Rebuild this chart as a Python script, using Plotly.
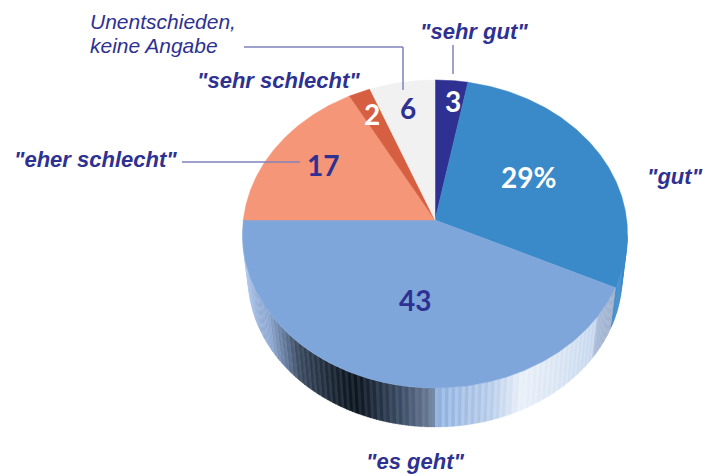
import math
import plotly.graph_objects as go

categories = ['"sehr gut"', '"gut"', '"es geht"', '"eher schlecht"', '"sehr schlecht"', 'Unentschieden, keine Angabe']
values = [3, 29, 43, 17, 2, 6]
value_labels = ["3", "29%", "43", "17", "2", "6"]
slice_colors = ["#2e3192", "#3a89c9", "#7ea6da", "#f59679", "#d65f41", "#f1f1f1"]

# rim shading of the visible 3D edge: (ellipse angle clockwise from top, colour)
rim_angles = [90, 110, 110.5, 122, 123, 137, 153, 163, 179, 181, 190, 204, 208, 226, 231, 240, 261, 270]
rim_colors = ["#3a89c9", "#3a89c9", "#9fb0cc", "#a9bcd8", "#c3d5ee", "#d5e2f3", "#e8eff8", "#b5cbe9", "#8db0e0",
              "#6a7c98", "#3b4d66", "#0c1520", "#101a26", "#3a4a60", "#5a7090", "#8aa5cf", "#a9c4e8", "#b5cdec"]

W, H = 703, 474
# top face: ellipse seen in perspective, hub lies above the ellipse centre
CX, CY = 435, 234
RX, RY = 192.5, 154
HUB = -14 / 154
# bottom outline of the rim
BX, BY, BRX, BRY = 435, 277, 187, 150


def face_pt(deg):
    """Slice angle (clockwise from top) to page position, with perspective."""
    a = math.radians(deg)
    u, v = math.sin(a), -math.cos(a)
    den = 1 + HUB * v
    return CX + RX * u * math.sqrt(1 - HUB ** 2) / den, CY + RY * (v + HUB) / den


def top_pt(deg):
    a = math.radians(deg)
    return CX + RX * math.sin(a), CY - RY * math.cos(a)


def bot_pt(deg):
    a = math.radians(deg)
    return BX + BRX * math.sin(a), BY - BRY * math.cos(a)


def mix(c1, c2, t):
    p = [int(c1[i:i + 2], 16) for i in (1, 3, 5)]
    q = [int(c2[i:i + 2], 16) for i in (1, 3, 5)]
    return "#%02x%02x%02x" % tuple(round(a + (b - a) * t) for a, b in zip(p, q))


def rim_color(deg):
    for i in range(len(rim_angles) - 1):
        if rim_angles[i] <= deg <= rim_angles[i + 1]:
            t = (deg - rim_angles[i]) / (rim_angles[i + 1] - rim_angles[i])
            return mix(rim_colors[i], rim_colors[i + 1], t)
    return rim_colors[-1]


fig = go.Figure()

# rim, in narrow bands; every other band a little lighter for the banded shading
for idx, d in enumerate(range(90, 270)):
    sub = [d + k * 0.25 for k in range(0, 6)]
    pts = [top_pt(s) for s in sub] + [bot_pt(s) for s in reversed(sub)]
    col = rim_color(d + 0.5)
    if 122 < d < 245 and idx % 2:
        col = mix(col, "#ffffff", 0.08) if d > 180 else mix(col, "#ffffff", 0.2)
    fig.add_trace(go.Scatter(x=[p[0] for p in pts], y=[p[1] for p in pts], mode="lines", fill="toself",
                             fillcolor=col, line=dict(color=col, width=0.3), hoverinfo="skip", showlegend=False))

# top face
total = sum(values)
start = 0.0
for name, v, col in zip(categories, values, slice_colors):
    end = start + v / total * 360
    n = max(4, int((end - start) * 2))
    arc = [face_pt(start + (end - start) * i / n) for i in range(n + 1)]
    hub = CX, CY + RY * HUB
    xs = [hub[0]] + [p[0] for p in arc] + [hub[0]]
    ys = [hub[1]] + [p[1] for p in arc] + [hub[1]]
    fig.add_trace(go.Scatter(x=xs, y=ys, mode="lines", fill="toself", fillcolor=col, name=name,
                             line=dict(color=col, width=0.5), hoverinfo="name", showlegend=False))
    start = end

# value labels
val_pos = [(453, 101), (528, 177), (415, 300), (323, 165), (372, 114), (408, 108)]
val_cols = ["#ffffff", "#ffffff", "#2e3192", "#2e3192", "#ffffff", "#2e3192"]
annos = []
for t, (x, y), c in zip(value_labels, val_pos, val_cols):
    annos.append(dict(x=x, y=y, text="<b>%s</b>" % t, showarrow=False, xanchor="center", yanchor="middle",
                      font=dict(family="Lato", size=28, color=c)))

# category labels
cat_font = dict(family="Liberation Sans", size=22, color="#2e3192")
cat_pos = [(474, 31), (675, 176), (415, 461), (95, 159), (278, 80)]
for t, (x, y) in zip(categories[:5], cat_pos):
    annos.append(dict(x=x, y=y, text="<b><i>%s</i></b>" % t, showarrow=False, xanchor="center", yanchor="middle",
                      font=cat_font))
und_font = dict(family="Liberation Sans", size=21, color="#2e3192")
annos.append(dict(x=88, y=21, text="<i>Unentschieden,</i>", showarrow=False, xanchor="left", yanchor="middle", font=und_font))
annos.append(dict(x=88, y=45, text="<i>keine Angabe</i>", showarrow=False, xanchor="left", yanchor="middle", font=und_font))

line = dict(color="#7f82bd", width=1.5)
shapes = [
    dict(type="line", x0=453, x1=453, y0=45, y1=74, line=line),
    dict(type="line", x0=182, x1=300, y0=162, y1=162, line=line),
    dict(type="line", x0=244, x1=403, y0=47, y1=47, line=line),
    dict(type="line", x0=403, x1=403, y0=47, y1=90, line=line),
]
shapes = [dict(s, xref="x", yref="y", layer="above") for s in shapes]

fig.update_layout(
    width=W, height=H, margin=dict(l=0, r=0, t=0, b=0),
    paper_bgcolor="white", plot_bgcolor="white", showlegend=False,
    xaxis=dict(range=[0, W], visible=False, fixedrange=True),
    yaxis=dict(range=[H, 0], visible=False, fixedrange=True),
    annotations=annos, shapes=shapes,
)
fig.write_html("out.html", config=dict(displayModeBar=False),
               post_script="document.body.style.margin='0';document.body.style.overflow='hidden';")
